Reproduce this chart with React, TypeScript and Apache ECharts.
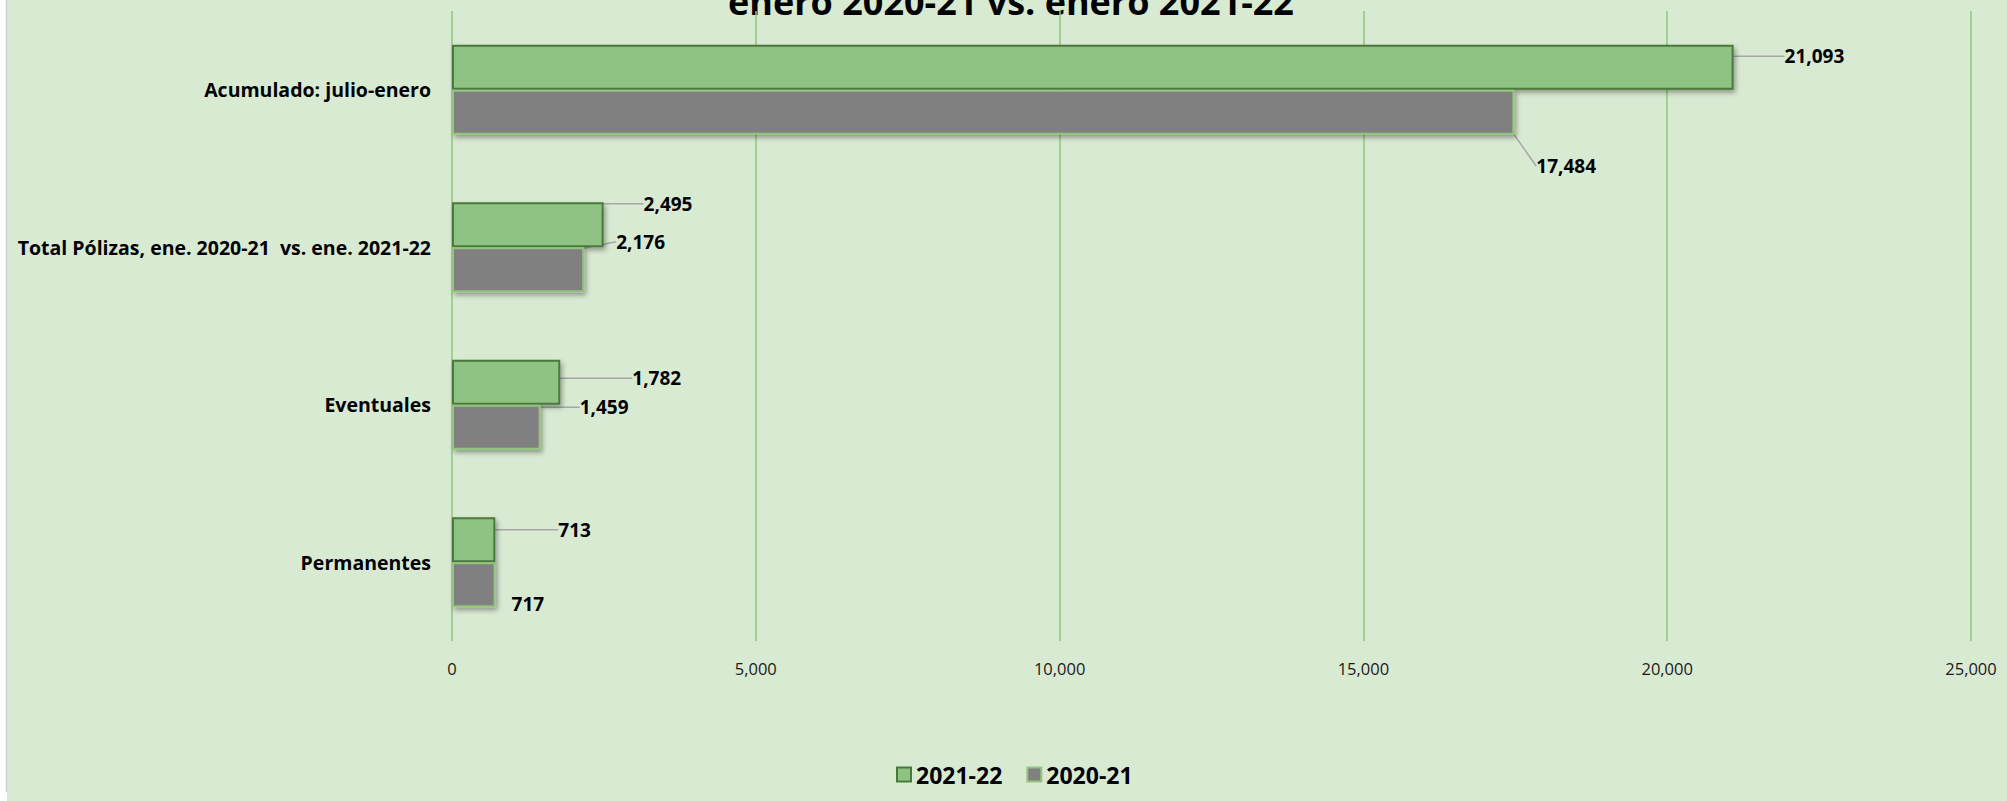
import React, { useEffect, useRef } from "react";
import * as echarts from "echarts";

const categories = [
  "Permanentes",
  "Eventuales",
  "Total Pólizas, ene. 2020-21  vs. ene. 2021-22",
  "Acumulado: julio-enero",
];
const seriesNames = ["2021-22", "2020-21"];
const values2122 = [713, 1782, 2495, 21093];
const values2021 = [717, 1459, 2176, 17484];
const xTicks = { min: 0, max: 25000, interval: 5000 };
const titleText = "enero 2020-21 vs. enero 2021-22";

// label offsets (layout only)
const greenLabelOffsets = [[58, -10], [67, -4], [35, -21], [46, -11]];
const grayLabelOffsets = [[11, 19], [34, -20], [27, -28], [17, 54]];

const FONT = "'Open Sans', 'Noto Sans', sans-serif";

export default function App() {
  const ref = useRef<HTMLDivElement>(null);
  useEffect(() => {
    if (!ref.current) return;
    const chart = echarts.init(ref.current, null, { renderer: "svg" });
    const fmt = (v: number) => v.toLocaleString("en-US");
    const labelBase = {
      show: true,
      position: "right",
      fontFamily: FONT,
      fontWeight: "bold",
      fontSize: 19,
      color: "#000",
      formatter: (p: any) => fmt(p.value),
    };
    const labelLine = {
      show: true,
      lineStyle: { color: "#a6a6a6", width: 1.5 },
    };
    chart.setOption({
      animation: false,
      backgroundColor: "#ffffff",
      textStyle: { fontFamily: FONT },
      graphic: [
        {
          type: "rect",
          z: -10,
          silent: true,
          shape: { x: 7, y: 0, width: 2000, height: 801 },
          style: { fill: "#d9ead3" },
        },
        {
          type: "line",
          z: -10,
          silent: true,
          shape: { x1: 6.5, y1: 0, x2: 6.5, y2: 792 },
          style: { stroke: "#d0d0d0", lineWidth: 1.5 },
        },
        {
          type: "text",
          x: 1011,
          y: 1,
          style: {
            text: titleText,
            fontFamily: FONT,
            fontWeight: "bold",
            fontSize: 36,
            fill: "#000",
            align: "center",
            verticalAlign: "middle",
          },
        },
      ],
      grid: { left: 452, right: 36, top: 11, bottom: 160, containLabel: false },
      legend: {
        data: seriesNames,
        bottom: 10,
        left: 891,
        icon: "rect",
        itemWidth: 14,
        itemHeight: 14,
        itemGap: 24,
        textStyle: { fontFamily: FONT, fontWeight: "bold", fontSize: 23, color: "#000" },
      },
      xAxis: {
        type: "value",
        min: xTicks.min,
        max: xTicks.max,
        interval: xTicks.interval,
        axisLine: { show: false },
        axisTick: { show: false },
        splitLine: { show: true, lineStyle: { color: "#93c47d", width: 1.5 } },
        axisLabel: {
          fontFamily: FONT,
          fontSize: 16.5,
          color: "#1a1a1a",
          margin: 19,
          formatter: (v: number) => fmt(v),
        },
      },
      yAxis: {
        type: "category",
        data: categories,
        axisLine: { show: false },
        axisTick: { show: false },
        axisLabel: {
          fontFamily: FONT,
          fontSize: 19.5,
          fontWeight: "bold",
          color: "#000",
          margin: 21,
        },
      },
      series: [
        {
          name: seriesNames[0],
          type: "bar",
          data: values2122,
          barGap: "0%",
          barCategoryGap: "43%",
          itemStyle: {
            color: "#8fc383",
            borderColor: "#4a7a3a",
            borderWidth: 2,
            shadowColor: "rgba(0,0,0,0.35)",
            shadowBlur: 5,
            shadowOffsetX: 2,
            shadowOffsetY: 3,
          },
          label: labelBase,
          labelLine,
          labelLayout: (p: any) => ({
            dx: greenLabelOffsets[p.dataIndex][0],
            dy: greenLabelOffsets[p.dataIndex][1],
          }),
        },
        {
          name: seriesNames[1],
          type: "bar",
          data: values2021.map((v, i) =>
            i === 0 ? { value: v, labelLine: { show: false } } : v
          ),
          barGap: "0%",
          barCategoryGap: "43%",
          itemStyle: {
            color: "#808080",
            borderColor: "#93c47d",
            borderWidth: 2,
            shadowColor: "rgba(0,0,0,0.35)",
            shadowBlur: 5,
            shadowOffsetX: 2,
            shadowOffsetY: 3,
          },
          label: labelBase,
          labelLine,
          labelLayout: (p: any) => ({
            dx: grayLabelOffsets[p.dataIndex][0],
            dy: grayLabelOffsets[p.dataIndex][1],
          }),
        },
      ],
    });
    return () => chart.dispose();
  }, []);
  return (
    <div
      ref={ref}
      style={{ position: "absolute", left: 0, top: 0, width: 2007, height: 801 }}
    />
  );
}
